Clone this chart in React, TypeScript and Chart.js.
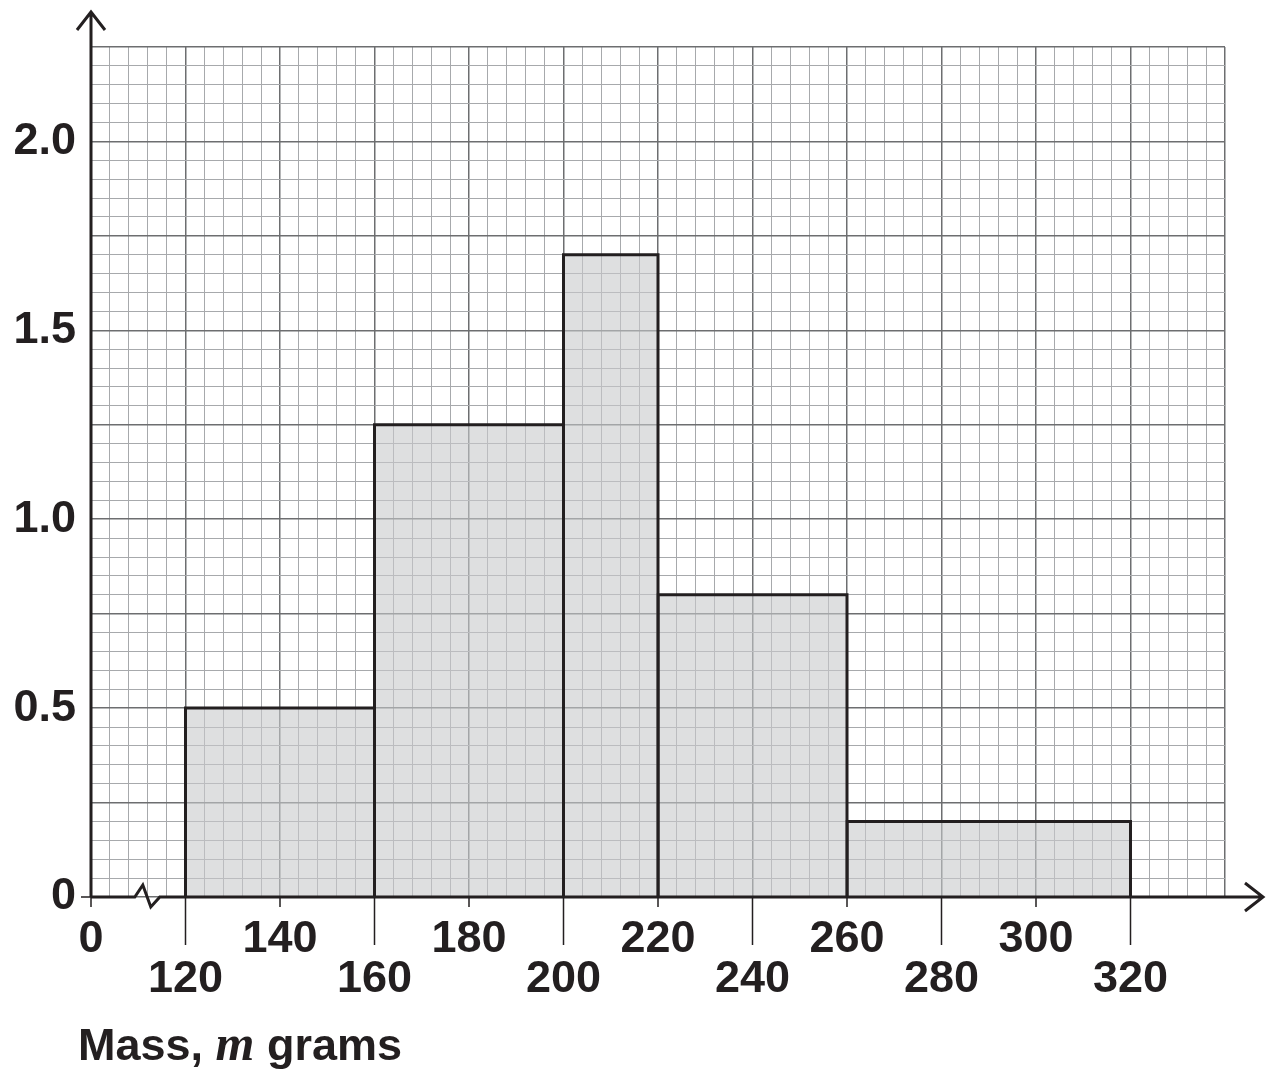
import React, { useEffect, useRef } from "react";
import Chart from "chart.js/auto";

// histogram classes (mass in grams) and frequency density
const classStarts = [120, 160, 200, 220, 260];
const classEnds = [160, 200, 220, 260, 320];
const densities = [0.5, 1.25, 1.7, 0.8, 0.2];

const yLabels = [0, 0.5, 1.0, 1.5, 2.0];
const upperRowLabels = [140, 180, 220, 260, 300];
const lowerRowLabels = [120, 160, 200, 240, 280, 320];

const FONT = "bold 45px 'Liberation Sans', Arial, sans-serif";

const axesPlugin = {
  id: "axesPlugin",
  afterDraw(chart: any) {
    const ctx = chart.ctx as CanvasRenderingContext2D;
    const x = chart.scales.x;
    const y = chart.scales.y;
    const x0 = x.getPixelForValue(100);
    const y0 = y.getPixelForValue(0);
    ctx.save();
    ctx.strokeStyle = "#231f20";
    ctx.fillStyle = "#231f20";
    ctx.lineWidth = 3;
    // y axis with arrow
    ctx.beginPath();
    ctx.moveTo(x0, y0);
    ctx.lineTo(x0, 12);
    ctx.moveTo(x0 - 14, 30);
    ctx.lineTo(x0, 12);
    ctx.lineTo(x0 + 14, 30);
    ctx.stroke();
    // x axis with break and arrow
    const bx = x.getPixelForValue(108);
    ctx.beginPath();
    ctx.moveTo(x0, y0);
    ctx.lineTo(bx + 6, y0);
    ctx.lineTo(bx + 14, y0 - 12);
    ctx.lineTo(bx + 22, y0 + 10);
    ctx.lineTo(bx + 31, y0);
    ctx.lineTo(1262, y0);
    ctx.moveTo(1245, y0 - 14);
    ctx.lineTo(1263, y0);
    ctx.lineTo(1245, y0 + 14);
    ctx.stroke();
    // tick marks
    ctx.lineWidth = 1.5;
    ctx.beginPath();
    ctx.moveTo(x0 - 10, y0);
    ctx.lineTo(x0, y0);
    ctx.moveTo(x0, y0);
    ctx.lineTo(x0, y0 + 10);
    upperRowLabels.forEach((v) => {
      const px = x.getPixelForValue(v);
      ctx.moveTo(px, y0);
      ctx.lineTo(px, y0 + 10);
    });
    lowerRowLabels.forEach((v) => {
      const px = x.getPixelForValue(v);
      ctx.moveTo(px, y0);
      ctx.lineTo(px, y0 + 48);
    });
    ctx.stroke();
    // labels
    ctx.font = FONT;
    ctx.textBaseline = "middle";
    ctx.textAlign = "right";
    yLabels.forEach((v) => {
      ctx.fillText(v === 0 ? "0" : v.toFixed(1), 76, y.getPixelForValue(v));
    });
    ctx.textAlign = "center";
    ctx.fillText("0", x0, 940);
    upperRowLabels.forEach((v) => ctx.fillText(String(v), x.getPixelForValue(v), 940));
    lowerRowLabels.forEach((v) => ctx.fillText(String(v), x.getPixelForValue(v), 980));
    // axis title
    ctx.textAlign = "left";
    ctx.textBaseline = "alphabetic";
    let tx = 78;
    const ty = 1060;
    ctx.fillText("Mass, ", tx, ty);
    tx += ctx.measureText("Mass, ").width;
    ctx.font = "bold italic 50px 'Liberation Serif', 'Times New Roman', serif";
    ctx.fillText("m", tx, ty);
    tx += ctx.measureText("m ").width;
    ctx.font = FONT;
    ctx.fillText("grams", tx, ty);
    ctx.restore();
  },
};

const App: React.FC = () => {
  const canvasRef = useRef<HTMLCanvasElement>(null);

  useEffect(() => {
    if (!canvasRef.current) return;
    const datasets = classStarts.map((s, i) => ({
      data: [
        { x: s, y: 0 },
        { x: s, y: densities[i] },
        { x: classEnds[i], y: densities[i] },
        { x: classEnds[i], y: 0 },
      ],
      showLine: true,
      fill: "origin",
      backgroundColor: "rgba(200,201,203,0.6)",
      borderColor: "#231f20",
      borderWidth: 3,
      pointRadius: 0,
      tension: 0,
    }));
    const chart = new Chart(canvasRef.current, {
      type: "scatter",
      data: { datasets: datasets as any },
      plugins: [axesPlugin],
      options: {
        animation: false,
        responsive: false,
        layout: { padding: { top: 47, right: 49, left: 0, bottom: 0 } },
        plugins: { legend: { display: false }, tooltip: { enabled: false } },
        scales: {
          x: {
            type: "linear",
            min: 100,
            max: 340,
            afterFit: (s: any) => {
              s.height = 1071 - 897;
            },
            ticks: { stepSize: 4, display: false },
            border: { display: false },
            grid: {
              drawTicks: false,
              color: (c: any) => ((c.tick.value - 100) % 20 === 0 ? "#6d6e70" : "#a7a9ac"),
              lineWidth: (c: any) => ((c.tick.value - 100) % 20 === 0 ? 1.5 : 1),
            },
          },
          y: {
            type: "linear",
            min: 0,
            max: 2.25,
            afterFit: (s: any) => {
              s.width = 91;
            },
            afterBuildTicks: (s: any) => {
              const t = [];
              for (let i = 0; i <= 45; i++) t.push({ value: i * 0.05 });
              s.ticks = t;
            },
            ticks: { display: false },
            border: { display: false },
            grid: {
              drawTicks: false,
              color: (c: any) => (Math.round(c.tick.value * 20) % 5 === 0 ? "#6d6e70" : "#a7a9ac"),
              lineWidth: (c: any) => (Math.round(c.tick.value * 20) % 5 === 0 ? 1.5 : 1),
            },
          },
        },
      },
    });
    return () => chart.destroy();
  }, []);

  return (
    <div style={{ position: "absolute", left: 0, top: 0, width: 1274, height: 1071, background: "#fff" }}>
      <canvas ref={canvasRef} width={1274} height={1071} />
    </div>
  );
};

export default App;
